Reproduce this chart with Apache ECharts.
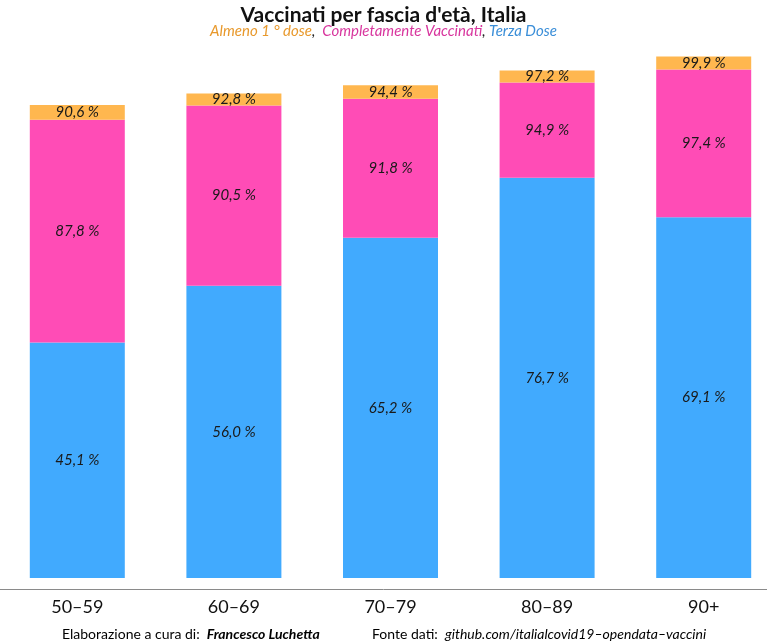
<!DOCTYPE html>
<html>
<head>
<meta charset="utf-8">
<script src="https://cdn.jsdelivr.net/npm/echarts@6/dist/echarts.min.js"></script>
<style>html,body{margin:0;padding:0;background:#fff}#c{width:767px;height:643px}</style>
</head>
<body>
<div id="c"></div>
<script>
const categories = ['50\u201359', '60\u201369', '70\u201379', '80\u201389', '90+'];
const terzaDose = [45.1, 56.0, 65.2, 76.7, 69.1];
const completamente = [87.8, 90.5, 91.8, 94.9, 97.4];
const almenoUna = [90.6, 92.8, 94.4, 97.2, 99.9];

const fmt = v => v.toFixed(1).replace('.', ',') + ' %';
const FONT = 'Lato';

function labelFor(arr) {
  return {
    show: true,
    position: 'inside',
    fontFamily: FONT,
    fontStyle: 'italic',
    fontSize: 15,
    color: '#1a1a1a',
    formatter: p => fmt(arr[p.dataIndex])
  };
}

const chart = echarts.init(document.getElementById('c'), null, {renderer: 'canvas'});
chart.setOption({
  animation: false,
  backgroundColor: '#ffffff',
  title: {
    left: 'center',
    top: 0,
    itemGap: -2,
    text: "Vaccinati per fascia d'età, Italia",
    textStyle: {fontFamily: FONT, fontSize: 21, fontWeight: 'bold', color: '#111'},
    subtext: '{o|Almeno 1 ° dose}{k|, } {p|Completamente Vaccinati}{k|, }{b|Terza Dose}',
    subtextStyle: {
      fontFamily: FONT, fontSize: 15, fontStyle: 'italic',
      rich: {
        o: {color: '#E8992C', fontFamily: FONT, fontSize: 15, fontStyle: 'italic'},
        p: {color: '#D8369E', fontFamily: FONT, fontSize: 15, fontStyle: 'italic'},
        b: {color: '#3A8ED8', fontFamily: FONT, fontSize: 15, fontStyle: 'italic'},
        k: {color: '#222', fontFamily: FONT, fontSize: 15, fontStyle: 'italic'}
      }
    }
  },
  grid: {left: -1, right: -15, top: 56, bottom: 65, containLabel: false, outerBoundsMode: 'none'},
  xAxis: {
    type: 'category',
    data: categories,
    offset: 11,
    axisLine: {onZero: false, lineStyle: {color: '#8a8a8a', width: 1}},
    axisTick: {alignWithLabel: true, inside: true, length: 3, lineStyle: {color: '#8a8a8a'}},
    axisLabel: {fontFamily: FONT, fontSize: 18, color: '#111', margin: 9}
  },
  yAxis: {
    type: 'value', min: 0, max: 100, show: false,
    splitLine: {show: false}
  },
  series: [
    {
      name: 'Terza Dose', type: 'bar', stack: 't', barWidth: 95,
      itemStyle: {color: '#41AAFE'},
      data: terzaDose.map(v => v),
      label: labelFor(terzaDose)
    },
    {
      name: 'Completamente Vaccinati', type: 'bar', stack: 't', barWidth: 95,
      itemStyle: {color: '#FF4CB6'},
      data: completamente.map((v, i) => +(v - terzaDose[i]).toFixed(2)),
      label: labelFor(completamente)
    },
    {
      name: 'Almeno 1 dose', type: 'bar', stack: 't', barWidth: 95,
      itemStyle: {color: '#FFB74F'},
      data: almenoUna.map((v, i) => +(v - completamente[i]).toFixed(2)),
      label: labelFor(almenoUna)
    }
  ],
  graphic: [
    {
      type: 'text', left: 62, top: 627,
      style: {
        text: '{g|Elaborazione a cura di:  }{n|Francesco Luchetta}',
        rich: {
          g: {fontFamily: FONT, fontSize: 14, color: '#555'},
          n: {fontFamily: FONT, fontSize: 14, fontStyle: 'italic', fontWeight: 'bold', color: '#111'}
        }
      }
    },
    {
      type: 'text', left: 372, top: 627,
      style: {
        text: '{g|Fonte dati:  }{s|github.com/italialcovid19\u2013opendata\u2013vaccini}',
        rich: {
          g: {fontFamily: FONT, fontSize: 14, color: '#555'},
          s: {fontFamily: FONT, fontSize: 14, fontStyle: 'italic', color: '#444'}
        }
      }
    }
  ]
});
</script>
</body>
</html>
